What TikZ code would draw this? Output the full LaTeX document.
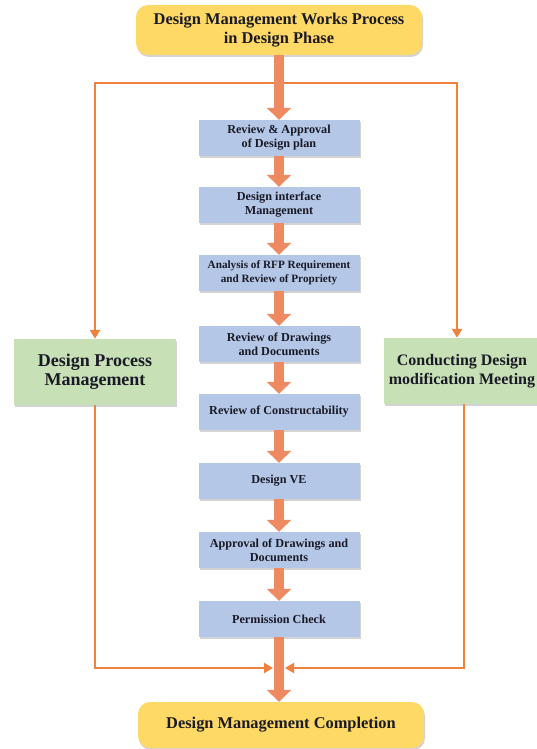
\documentclass[tikz,border=0pt]{standalone}
\usepackage{fontspec}
\setmainfont{Liberation Serif}
\usetikzlibrary{arrows.meta,shadows}

\definecolor{phaseyellow}{HTML}{FED966}
\definecolor{taskblue}{HTML}{B4C7E7}
\definecolor{sidegreen}{HTML}{C8E0B6}
\definecolor{flowarrow}{HTML}{EE8A62}
\definecolor{feedline}{HTML}{EE8040}
\definecolor{textdark}{HTML}{1A1A26}

\begin{document}
\begin{tikzpicture}[x=1pt,y=-1pt,
    phase/.style={fill=phaseyellow, rounded corners=12pt, minimum width=286pt, minimum height=50pt,
      align=center, text=textdark, font=\fontsize{16.4}{19}\selectfont\bfseries,
      drop shadow={shadow xshift=1pt, shadow yshift=-2pt, opacity=0.35}},
    task/.style={fill=taskblue, minimum width=161pt, minimum height=36pt, inner sep=0pt,
      align=center, text=textdark, font=\fontsize{12.2}{14}\selectfont\bfseries,
      drop shadow={shadow xshift=1pt, shadow yshift=-2pt, opacity=0.35}},
    side/.style={fill=sidegreen, minimum width=162pt, minimum height=66pt, inner sep=0pt,
      align=center, text=textdark, font=\fontsize{18}{19}\selectfont\bfseries,
      drop shadow={shadow xshift=1pt, shadow yshift=-2pt, opacity=0.35}},
    flow/.style={line width=10pt, draw=flowarrow, -{Triangle[width=24pt,length=12pt]}},
    feed/.style={line width=2.5pt, draw=feedline, -{Triangle[width=10pt,length=9pt]}}]

  \useasboundingbox (0,0) rectangle (536,749);

  % Start and end of the phase
  \node[phase] (start) at (279,30) {Design Management Works Process\\in Design Phase};
  \node[phase, minimum height=46pt] (finish) at (281,725) {Design Management Completion};

  % Main steps
  \node[task] (t1) at (279,138) {Review \& Approval\\of Design plan};
  \node[task] (t2) at (279,205) {Design interface\\Management};
  \node[task, font=\fontsize{11.2}{14}\selectfont\bfseries] (t3) at (279,273) {Analysis of RFP Requirement\\and Review of Propriety};
  \node[task] (t4) at (279,344) {Review of Drawings\\and Documents};
  \node[task] (t5) at (279,412) {Review of Constructability};
  \node[task] (t6) at (279,481) {Design VE};
  \node[task] (t7) at (279,550) {Approval of Drawings and\\Documents};
  \node[task] (t8) at (279,619) {Permission Check};

  % Side activities
  \node[side] (dpm) at (95,372) {Design Process\\Management};
  \node[side, minimum width=156pt, font=\fontsize{16}{19}\selectfont\bfseries] (cdm) at (462,371) {Conducting Design\\modification Meeting};

  % Thin feed lines
  \coordinate (fork) at (279,83);
  \coordinate (joinL) at (273,668);
  \coordinate (joinR) at (285,668);
  \draw[feed] (fork) -| (dpm.north);
  \draw[feed] (fork) -| ([xshift=-5pt]cdm.north);
  \draw[feed] (dpm.south) |- (joinL);
  \draw[feed] ([xshift=2pt]cdm.south) |- (joinR);

  % Thick flow arrows
  \foreach \a/\b in {start/t1, t1/t2, t2/t3, t3/t4, t4/t5, t5/t6, t6/t7, t7/t8}
    \draw[flow] (\a.south) -- (\b.north);
  \draw[flow] (t8.south) -- (t8.south |- finish.north);
\end{tikzpicture}
\end{document}
